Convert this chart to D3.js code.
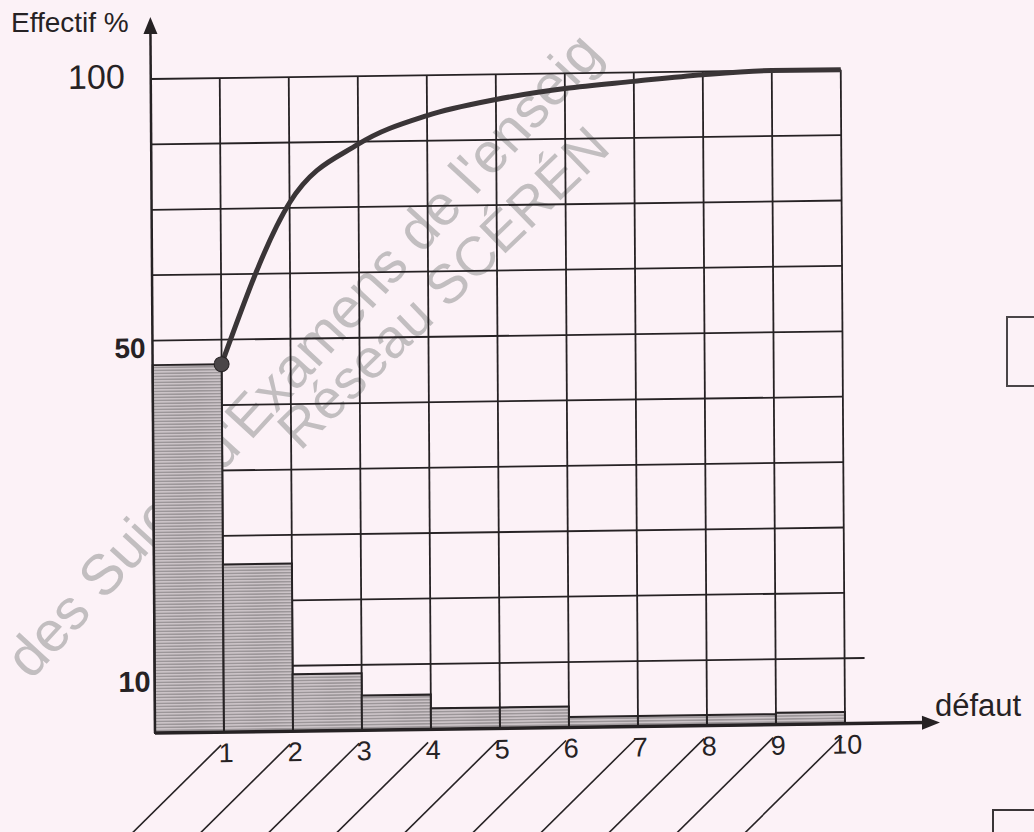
<!DOCTYPE html>
<html>
<head>
<meta charset="utf-8">
<script src="https://cdn.jsdelivr.net/npm/d3@7"></script>
<style>
  html, body { margin: 0; padding: 0; background: #fcf2f7; }
  svg { display: block; }
</style>
</head>
<body>
<script>
// ---------- data ----------
const categories = [1, 2, 3, 4, 5, 6, 7, 8, 9, 10];
const barValues = [47, 22.5, 8.7, 5.3, 3.2, 3.2, 1.6, 1.6, 1.6, 1.8];      // effectif % par défaut
const cumulValues = [47, 76, 87, 92.3, 95.2, 97.1, 98.3, 99.4, 100, 100]; // courbe cumulée
const yTickLabels = [10, 50, 100];
const yBreaks = [0, 10, 50, 100];      // graduation non linéaire du sujet
const yBreakRows = [0, 1, 6, 10];      // lignes de quadrillage correspondantes
const gridRowCount = 10;
const yTitle = "Effectif %";
const xTitle = "défaut";
const watermark1 = "des Sujets d'Examens de l'enseig";
const watermark2 = "Réseau SCÉRÉN";

// ---------- layout / style ----------
const W = 1034, H = 832;
const X0 = 155, X1 = 845, Y0 = 733, Y1 = 79;
const font = "'Liberation Sans', Arial, sans-serif";
const ink = "#262224";

const svg = d3.select("body").append("svg").attr("width", W).attr("height", H);
svg.append("rect").attr("width", W).attr("height", H).attr("fill", "#fcf2f7");

const defs = svg.append("defs");
const pat = defs.append("pattern").attr("id", "hatch").attr("patternUnits", "userSpaceOnUse")
  .attr("width", 6).attr("height", 3);
pat.append("rect").attr("width", 6).attr("height", 3).attr("fill", "#cbc3c7");
pat.append("rect").attr("y", 1).attr("width", 6).attr("height", 1).attr("fill", "#858083");

// watermark (behind)
const wm = svg.append("g").attr("fill", "#c2bec0").style("font-family", font);
wm.append("text").attr("transform", "translate(31,681) rotate(-47.5)")
  .style("font-size", "57px").text(watermark1);
wm.append("text").attr("transform", "translate(300,452) rotate(-44)")
  .style("font-size", "55px").text(watermark2);

// scales
const x = d3.scaleLinear().domain([0, categories.length]).range([X0, X1]);
const row = d3.scaleLinear().domain([0, gridRowCount]).range([Y0, Y1]);
const y = d3.scaleLinear().domain(yBreaks).range(yBreakRows.map(row));

// skewed group (scan is slightly tilted)
const g = svg.append("g")
  .attr("transform", `translate(${X0},${Y0}) matrix(1,-0.0135,0.0065,1,0,0) translate(${-X0},${-Y0})`);

// horizontal grid
g.append("g").selectAll("line").data(d3.range(1, gridRowCount + 1)).join("line")
  .attr("x1", X0).attr("x2", d => d === 1 ? X1 + 20 : X1)
  .attr("y1", d => row(d)).attr("y2", d => row(d))
  .attr("stroke", ink).attr("stroke-width", 1.8);
// vertical grid
g.append("g").selectAll("line").data(categories).join("line")
  .attr("x1", d => x(d)).attr("x2", d => x(d))
  .attr("y1", Y0).attr("y2", Y1)
  .attr("stroke", ink).attr("stroke-width", 1.8);

// bars
g.append("g").selectAll("rect").data(categories).join("rect")
  .attr("x", d => x(d - 1)).attr("width", d => x(d) - x(d - 1))
  .attr("y", (d, i) => y(barValues[i])).attr("height", (d, i) => Y0 - y(barValues[i]))
  .attr("fill", "url(#hatch)").attr("stroke", ink).attr("stroke-width", 2);

// axes
g.append("line").attr("x1", X0).attr("x2", X0).attr("y1", Y0).attr("y2", 30)
  .attr("stroke", ink).attr("stroke-width", 2.5);
g.append("path").attr("d", `M${X0 - 7},34 L${X0},17 L${X0 + 7},34 Z`).attr("fill", ink);
g.append("line").attr("x1", X0).attr("x2", 925).attr("y1", Y0).attr("y2", Y0)
  .attr("stroke", ink).attr("stroke-width", 3.5);
g.append("path").attr("d", `M922,${Y0 - 7} L940,${Y0} L922,${Y0 + 7} Z`).attr("fill", ink);

// cumulative curve
const line = d3.line().x((d, i) => x(categories[i])).y(d => y(d)).curve(d3.curveMonotoneX);
g.append("path").datum(cumulValues).attr("d", line)
  .attr("fill", "none").attr("stroke", "#3a3537").attr("stroke-width", 5).attr("stroke-linejoin", "round");
g.append("circle").attr("cx", x(categories[0])).attr("cy", y(cumulValues[0])).attr("r", 7.5)
  .attr("fill", "#4a4548").attr("stroke", ink).attr("stroke-width", 1);

// x tick labels and slanted writing lines
g.append("g").selectAll("line").data(categories).join("line")
  .attr("x1", d => x(d) - 3).attr("y1", Y0 + 13)
  .attr("x2", d => x(d) - 3 - 100).attr("y2", Y0 + 13 + 97)
  .attr("stroke", ink).attr("stroke-width", 1.6);
g.append("g").selectAll("text").data(categories).join("text")
  .attr("x", d => x(d) + 2).attr("y", Y0 + 30)
  .attr("text-anchor", "middle").style("font-family", font).style("font-size", "27px")
  .attr("fill", ink).text(d => d);

// y tick labels
const yLabelStyle = {
  100: { size: 34, weight: "normal", xEnd: 129, dy: 9 },
  50: { size: 28, weight: "bold", xEnd: 148, dy: 17 },
  10: { size: 29, weight: "bold", xEnd: 151, dy: 24 }
};
g.append("g").selectAll("text").data(yTickLabels).join("text")
  .attr("x", d => yLabelStyle[d].xEnd).attr("y", d => y(d) + yLabelStyle[d].dy)
  .attr("text-anchor", "end").style("font-family", font)
  .style("font-size", d => yLabelStyle[d].size + "px").style("font-weight", d => yLabelStyle[d].weight)
  .attr("fill", ink).text(d => d);

// titles
svg.append("text").attr("x", 11).attr("y", 32).style("font-family", font).style("font-size", "28px")
  .attr("fill", ink).text(yTitle);
svg.append("text").attr("x", 935).attr("y", 716).style("font-family", font).style("font-size", "31px")
  .attr("fill", ink).text(xTitle);

// answer boxes at right edge of the scanned page
svg.append("rect").attr("x", 1007).attr("y", 317).attr("width", 60).attr("height", 69)
  .attr("fill", "none").attr("stroke", "#4a4548").attr("stroke-width", 2);
svg.append("rect").attr("x", 993).attr("y", 810).attr("width", 60).attr("height", 60)
  .attr("fill", "none").attr("stroke", "#3a3537").attr("stroke-width", 2);
</script>
</body>
</html>
